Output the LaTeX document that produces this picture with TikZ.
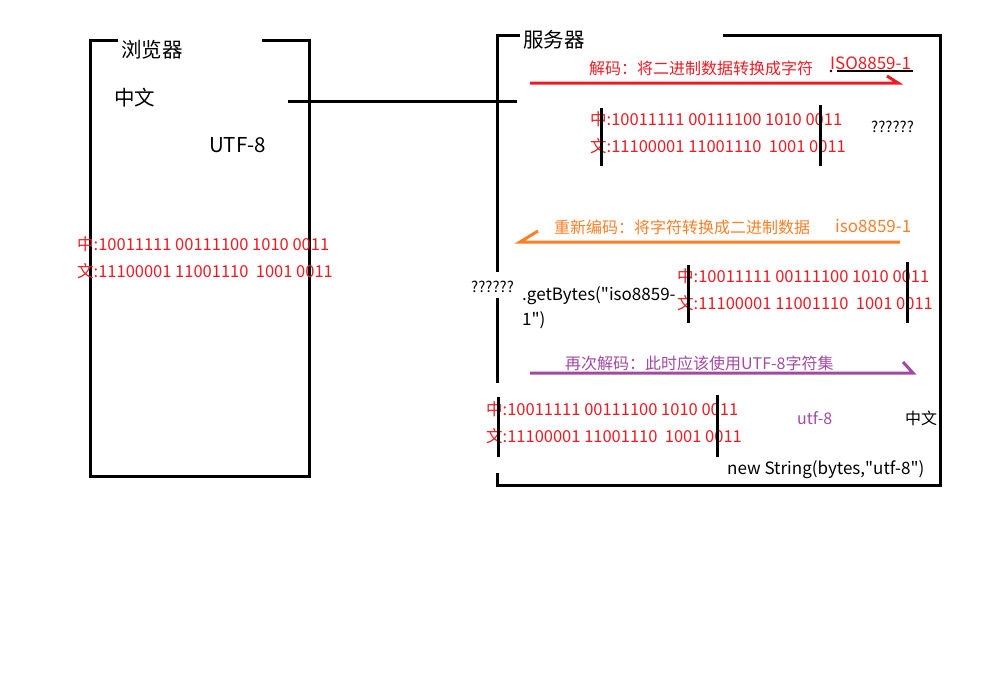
\documentclass[tikz,border=0pt]{standalone}
\usepackage{fontspec}
\setmainfont{Noto Sans CJK SC}
\newfontfamily\qfont{Noto Sans CJK SC}
\usepackage{tikz}
\usepackage{xcolor}
\definecolor{paintred}{RGB}{237,28,36}
\definecolor{paintorange}{RGB}{255,127,39}
\definecolor{paintpurple}{RGB}{163,73,164}
\newcommand{\dq}{{\qfont"}}% guillemet droit

\begin{document}
\begin{tikzpicture}[x=1pt,y=-1pt,
				bord/.style={line width=3pt},
				fleche/.style={line width=3pt},
				txt/.style={inner sep=0pt,anchor=west,font=\fontsize{16}{20}\selectfont},
				titre/.style={txt,font=\fontsize{20.5}{24}\selectfont},
				bits/.style={inner sep=0pt,anchor=west,text=paintred,align=left,
					font=\fontsize{16.5}{27}\selectfont}]
				\useasboundingbox (0,0) rectangle (992,672);
				
				% navigateur
				\draw[bord] (118,40) -| (90,476) -| (309,40) -- (262,40);
				\node[titre] (nav) at (121,50) {浏览器};
				\node[titre] (zhwen) at (114,98) {中文};
				\node[titre] (utf) at (209,145) {UTF-8};
				\node[bits] (bitsnav) at (77,257.5) {中:10011111 00111100 1010 0011\\文:11100001 11001110\ \ 1001 0011};
				
				% serveur
				\draw[bord] (520,35) -| (497,272);
				\draw[bord] (497,298) -- (497,383);
				\draw[bord] (497,473) -- (497,485) -| (940,35) -- (723,35);
				\node[titre] (serv) at (523,40) {服务器};
				
				\coordinate (c1) at (288,101);
				\coordinate (c2) at (517,101);
				\draw[bord] (c1) -- (c2);
				
				% decodage
				\coordinate (r1) at (530,83);
				\coordinate (r2) at (898,83);
				\draw[fleche,paintred] (r1) -- (r2) -- ++(-11,-7);
				\node[txt,text=paintred] (dec) at (589,68) {解码：将二进制数据转换成字符};
				\node[txt,text=paintred,font=\fontsize{17}{20}\selectfont] (iso1) at (830,63) {ISO8859-1};
				\coordinate (s1) at (837,71);
				\coordinate (s2) at (913,71);
				\draw[line width=2.5pt] (s1) -- (s2);
				\fill (831,71) circle (1.3);
				\node[bits] (bits1) at (590,132.5) {中:10011111 00111100 1010 0011\\文:11100001 11001110\ \ 1001 0011};
				\draw[bord] (601,108) -- (601,166);
				\draw[bord] (820,105) -- (820,166);
				\node[txt,font=\fontsize{15}{18}\selectfont] (q1) at (871,127) {??????};
				
				% encodage
				\coordinate (o1) at (900,242);
				\coordinate (o2) at (520,242);
				\draw[fleche,paintorange] (o1) -- (o2) -- ++(18,-11);
				\node[txt,text=paintorange] (enc) at (554,227) {重新编码：将字符转换成二进制数据};
				\node[txt,text=paintorange,font=\fontsize{17}{20}\selectfont] (iso2) at (835,226) {iso8859-1};
				\node[txt,font=\fontsize{15}{18}\selectfont] (q2) at (471,287) {??????};
				\node[txt,font=\fontsize{17}{25}\selectfont,align=left] (getb) at (522,307.5) {.getBytes(\dq iso8859-\\1\dq)};
				\node[bits] (bits2) at (677,289.5) {中:10011111 00111100 1010 0011\\文:11100001 11001110\ \ 1001 0011};
				\draw[bord] (688,265) -- (688,323);
				\draw[bord] (907,262) -- (907,323);
				
				% nouveau decodage
				\coordinate (p1) at (530,373);
				\coordinate (p2) at (913,373);
				\draw[fleche,paintpurple] (p1) -- (p2) -- ++(-10,-11);
				\node[txt,text=paintpurple] (dec2) at (565,363) {再次解码：此时应该使用UTF-8字符集};
				\node[bits] (bits3) at (486,423) {中:10011111 00111100 1010 0011\\文:11100001 11001110\ \ 1001 0011};
				\draw[bord] (498,397) -- (498,457);
				\draw[bord] (717,395) -- (717,457);
				\node[txt,text=paintpurple] (utf2) at (797,418) {utf-8};
				\node[txt] (zhwen2) at (905,418) {中文};
				\node[txt,font=\fontsize{17}{20}\selectfont] (newstr) at (727,470) {new String(bytes,\dq utf-8\dq)};
\end{tikzpicture}
\end{document}
